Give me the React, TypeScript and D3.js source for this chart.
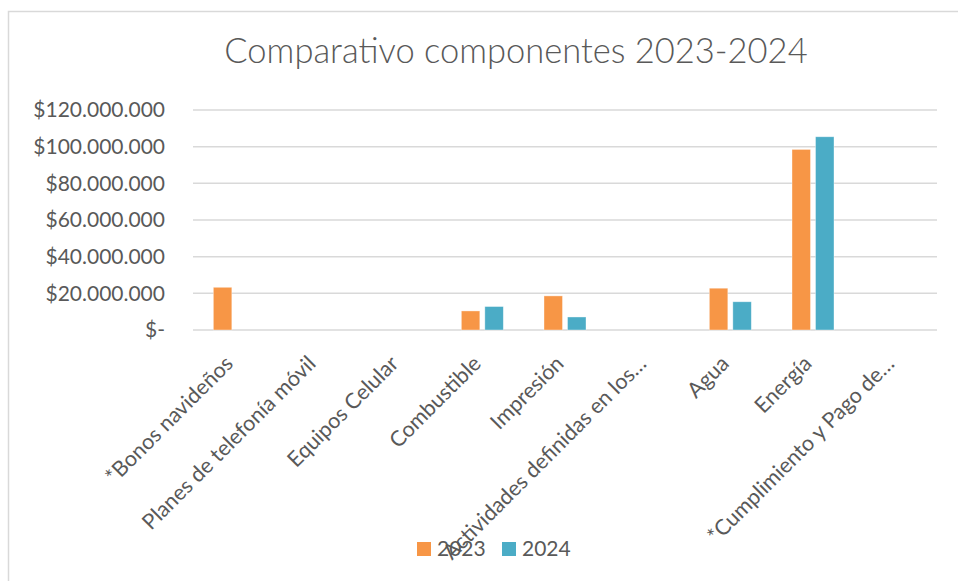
import React from "react";
import * as d3 from "d3";

const categories = [
  "*Bonos navideños",
  "Planes de telefonía móvil",
  "Equipos Celular",
  "Combustible",
  "Impresión",
  "Actividades definidas en los…",
  "Agua",
  "Energía",
  "*Cumplimiento y Pago de…",
];
const seriesNames = ["2023", "2024"];
const values2023: (number | null)[] = [23300000, null, null, 10400000, 18600000, null, 22800000, 98500000, null];
const values2024: (number | null)[] = [null, null, null, 12800000, 7100000, null, 15400000, 105400000, null];
const yTicks = [0, 20000000, 40000000, 60000000, 80000000, 100000000, 120000000];
const colors = ["#F79646", "#4BACC6"];

const W = 958;
const H = 581;
const FONT = "Lato, 'Open Sans', sans-serif";
const TEXT = "#595959";

function fmt(v: number) {
  if (v === 0) return "$-";
  const s = String(v).replace(/\B(?=(\d{3})+(?!\d))/g, ".");
  return "$" + s;
}

export default function App() {
  const left = 193, right = 937, top = 110, bottom = 330;
  const x = d3.scaleBand<string>().domain(categories).range([left, right]).padding(0);
  const y = d3.scaleLinear().domain([0, 120000000]).range([bottom, top]);
  const series = [values2023, values2024];

  return (
    <svg width={W} height={H} style={{ position: "absolute", left: 0, top: 0, background: "#fff" }} fontFamily={FONT}>
      <rect x={8.5} y={11.5} width={1000} height={700} fill="#fff" stroke="#D9D9D9" strokeWidth={1.5} />
      <text x={516} y={63} textAnchor="middle" fontSize={34.5} fontWeight={300} fill={TEXT}>
        Comparativo componentes 2023-2024
      </text>
      {yTicks.map((t) => (
        <g key={t}>
          <line x1={left} x2={right} y1={y(t)} y2={y(t)} stroke="#D9D9D9" strokeWidth={1.5} />
          <text x={165} y={y(t)} dy="0.35em" textAnchor="end" fontSize={21} fill={TEXT}>
            {fmt(t)}
          </text>
        </g>
      ))}
      {categories.map((c, i) => {
        const cx = (x(c) as number) + x.bandwidth() / 2;
        const x1 = d3.scaleBand<string>().domain(seriesNames).range([cx - 21, cx + 21]).paddingInner(0.213).paddingOuter(0);
        return (
          <g key={c}>
            {series.map((s, k) => {
              const v = s[i];
              if (v == null) return null;
              return (
                <rect
                  key={k}
                  x={x1(seriesNames[k])}
                  y={y(v)}
                  width={x1.bandwidth()}
                  height={y(0) - y(v)}
                  fill={colors[k]}
                  stroke="#fff"
                  strokeOpacity={0.5}
                  strokeWidth={0.75}
                />
              );
            })}
            <text
              transform={`translate(${cx},${bottom + 35}) rotate(-45)`}
              textAnchor="end"
              fontSize={21.5}
              fill={TEXT}
            >
              {c}
            </text>
          </g>
        );
      })}
      {seriesNames.map((s, k) => (
        <g key={s} transform={`translate(${417 + k * 85},542)`}>
          <rect x={0} y={0} width={14} height={14} fill={colors[k]} />
          <text x={20} y={14} fontSize={21} fill={TEXT}>
            {s}
          </text>
        </g>
      ))}
    </svg>
  );
}
